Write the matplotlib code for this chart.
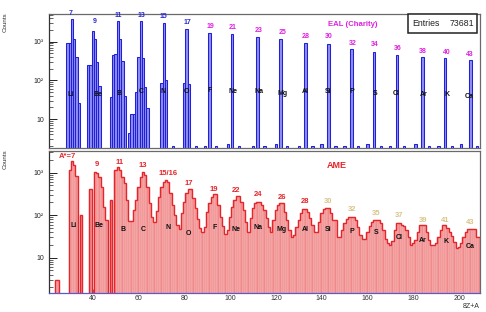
import numpy as np
import matplotlib
matplotlib.use('Agg')
import matplotlib.pyplot as plt
from matplotlib.patches import Rectangle
from matplotlib.ticker import FixedLocator, FixedFormatter, MultipleLocator, NullFormatter

plt.rcParams['font.family'] = ['Liberation Sans', 'DejaVu Sans']

# ---------------- data (x = 8Z+A bin centre, y = counts) ----------------
# EAL (Charity) - top panel
eal_Li = (29, [900, 950, 3800, 1150, 400, 26])
eal_Be = (38, [250, 250, 1900, 1150, 300, 70])
eal_B = (48, [38, 450, 470, 3500, 1150, 316, 40])
eal_C = (56, [4.3, 13.5, 13.5, 51, 400, 3500, 375, 66, 19])
eal_N = (70, [87, 3100, 100])
eal_O = (80, [84, 2100, 80])
eal_peak_x = [91, 101, 112, 122, 133, 143, 153, 163, 173, 184, 194, 205]
eal_peak_y = [1650, 1550, 1350, 1150, 910, 860, 635, 550, 455, 395, 370, 340]
eal_tail_x = [75, 85, 89, 94, 99, 104, 110, 115, 120, 125, 130, 136, 140,
              146, 150, 156, 160, 166, 170, 176, 181, 187, 191, 197, 201, 208]
eal_tail_y = [2.0, 2.0, 2.0, 2.0, 2.25, 2.0, 2.0, 2.0, 2.25, 2.0, 2.0, 2.0, 2.25,
              2.0, 2.0, 2.0, 2.25, 2.0, 2.0, 2.0, 2.25, 2.0, 2.0, 2.0, 2.25, 2.0]
eal_entries = 73681

# AME - bottom panel
ame_low = (24, [3, 3])
ame_Li = (30, [1150, 1900, 1520, 820, 0, 100])
ame_Be = (39, [408, 0, 1050, 1000, 805, 470, 158, 77, 0, 228, 0])
ame_B = (50, [1150, 1340, 1150, 805, 565, 228])
ame_C = (56, [73, 73, 133, 228, 470, 805, 1050, 880, 450, 190, 92, 70])
ame_N = (68, [123, 275, 470, 620, 670, 600, 327, 173, 100, 60, 47])
ame_O = (79, [110, 208, 327, 408, 408, 250, 145, 80, 50, 41])
ame_F = (89, [54, 120, 190, 275, 310, 310, 173, 90, 55, 37])
ame_Ne = (99, [45, 92, 158, 228, 283, 283, 200, 130, 70, 40])
ame_Na = (109, [85, 145, 190, 208, 208, 173, 133, 85, 54, 40])
ame_Mg = (119, [77, 133, 173, 190, 190, 120, 77, 45, 30])
ame_Al = (128, [35, 54, 77, 110, 140, 140, 120, 85, 59, 41])
ame_Si = (138, [41, 70, 110, 140, 150, 150, 110, 77, 77, 30])
ame_P = (148, [30, 45, 65, 80, 92, 92, 92, 77, 54, 35, 27])
ame_S = (159, [28, 40, 55, 70, 77, 77, 77, 65, 45, 28, 22, 20])
ame_Cl = (171, [25, 45, 65, 65, 60, 55, 45, 30, 20, 22])
ame_Ar = (181, [26, 41, 58, 58, 58, 41, 26, 20, 20])
ame_K = (190, [22, 30, 45, 58, 58, 50, 40, 32, 24, 17, 18])
ame_Ca = (201, [22, 30, 40, 47, 47, 47, 47, 30, 30])

elements = ['Li', 'Be', 'B', 'C', 'N', 'O', 'F', 'Ne', 'Na', 'Mg', 'Al', 'Si',
            'P', 'S', 'Cl', 'Ar', 'K', 'Ca']
eal_mass_labels = ['7', '9', '11', '13', '15', '17', '19', '21', '23', '25', '28',
                   '30', '32', '34', '36', '38', '40', '43']
ame_mass_labels = ['A*=7', '9', '11', '13', '15/16', '17', '19', '22', '24', '26',
                   '28', '30', '32', '35', '37', '39', '41', '43']

# ---------------- annotation layout (data coords) ----------------
top_mass_x = [30.5, 41, 51.2, 61.4, 70.9, 81.3, 91.6, 101.2, 112.7, 122.8, 133,
              142.9, 153.4, 163.3, 173.1, 184.4, 194.7, 204.9]
top_mass_y = [5430, 3290, 4900, 4900, 4440, 3100, 2440, 2300, 2000, 1750, 1350,
              1350, 910, 860, 675, 550, 520, 470]
top_elem_x = [30.5, 42.2, 51.5, 61.4, 70.9, 81.1, 91, 101.4, 112.7, 123, 132.8,
              142.9, 153.4, 163.2, 172.8, 184.4, 194.7, 204.5]
top_elem_y = [42, 42, 46, 50, 53, 50, 55, 53, 53, 46, 50, 50, 50, 46, 45, 42, 42, 39]
bot_mass_x = [28.8, 41.8, 51.9, 61.9, 73, 82, 92.7, 102.6, 112.4, 122.6, 132.8,
              142.9, 153.2, 163.8, 173.9, 184.1, 194, 204.9]
bot_mass_y = [2377, 1518, 1718, 1438, 968, 563, 408, 371, 310, 258, 208, 208,
              133, 111, 96, 77, 77, 66]
bot_elem_x = [31.8, 42.9, 53.1, 61.9, 73, 82, 93.1, 102.6, 112.4, 122.6, 132.8,
              142.9, 153.2, 163.8, 173.9, 184.1, 194.4, 204.9]
bot_elem_y = [56, 56, 45, 45, 50, 38, 50, 45, 52, 47, 45, 46.5, 41, 39, 30, 26, 24, 18]


def build(segments, lo=21, hi=210):
    x = np.arange(lo, hi + 1)
    y = np.zeros_like(x, dtype=float)
    for start, vals in segments:
        for i, v in enumerate(vals):
            y[start + i - lo] = v
    return x, y


eal_x, eal_y = build([eal_Li, eal_Be, eal_B, eal_C, eal_N, eal_O])
for xx, yy in zip(eal_peak_x, eal_peak_y):
    eal_y[xx - 21] = yy
for xx, yy in zip(eal_tail_x, eal_tail_y):
    eal_y[xx - 21] = yy

ame_x, ame_y = build([ame_low, ame_Li, ame_Be, ame_B, ame_C, ame_N, ame_O, ame_F,
                      ame_Ne, ame_Na, ame_Mg, ame_Al, ame_Si, ame_P, ame_S, ame_Cl,
                      ame_Ar, ame_K, ame_Ca])

# ---------------- figure ----------------
fig = plt.figure(figsize=(4.86, 3.12), dpi=100)
ax1 = fig.add_axes([0.1014, 0.5266, 0.8869, 0.4285])
ax2 = fig.add_axes([0.1014, 0.0599, 0.8869, 0.4561])

XL = (21.05, 209.3)
BASE = 0.1

# top histogram
m = eal_y > 0
ax1.bar(eal_x[m], eal_y[m] - BASE, bottom=BASE, width=1.0, color='#8f8ff0',
        edgecolor='#2020dc', linewidth=0.75, zorder=2)
ax1.set_yscale('log')
ax1.set_xlim(*XL)
ax1.set_ylim(1.81, 5210)

# bottom histogram
m2 = ame_y > 0
ax2.bar(ame_x[m2], ame_y[m2] - BASE, bottom=BASE, width=1.0, color='#f08a8c',
        edgecolor='#fbd3d3', linewidth=0.3, zorder=2)
edges = np.append(ame_x - 0.5, ame_x[-1] + 0.5)
ax2.stairs(np.where(ame_y > 0, ame_y, 0.2), edges, baseline=0.2, color='#e3262b',
           linewidth=1.0, zorder=3)
ax2.set_yscale('log')
ax2.set_xlim(*XL)
ax2.set_ylim(1.45, 3240)

minor = [k * 10 ** d for d in range(0, 4) for k in range(2, 10)]
for ax in (ax1, ax2):
    ax.yaxis.set_major_locator(FixedLocator([10, 100, 1000]))
    ax.yaxis.set_major_formatter(FixedFormatter(['10', '10\u00b2', '10\u00b3']))
    ax.yaxis.set_minor_locator(FixedLocator(minor))
    ax.yaxis.set_minor_formatter(NullFormatter())
    ax.tick_params(axis='y', which='major', direction='in', length=6, width=0.7,
                   labelsize=5, pad=4, colors='#222222')
    ax.tick_params(axis='y', which='minor', direction='in', length=3, width=0.5,
                   colors='#222222')
    ax.tick_params(axis='y', right=False)
    for s in ax.spines.values():
        s.set_color('#6a6a6a')
        s.set_linewidth(0.9)
    ax.spines['left'].set_color('#333333')

ax1.tick_params(axis='x', which='both', bottom=False, top=False, labelbottom=False)
ax2.xaxis.set_major_locator(MultipleLocator(20))
ax2.xaxis.set_minor_locator(MultipleLocator(5))
ax2.tick_params(axis='x', which='major', direction='in', length=3, width=0.6,
                labelsize=5, pad=1.5, colors='#333333')
ax2.tick_params(axis='x', which='minor', direction='in', length=2, width=0.5,
                colors='#333333')
ax2.spines['bottom'].set_color('#5a5acc')

# labels top
blue_lab = '#2a2ad0'
mag_lab = '#e020e0'
for i, t in enumerate(eal_mass_labels):
    c = blue_lab if i < 6 else mag_lab
    ax1.text(top_mass_x[i], top_mass_y[i], t, color=c, fontsize=5, fontweight='bold',
             ha='center', va='center', clip_on=False, zorder=5)
for i, t in enumerate(elements):
    ax1.text(top_elem_x[i], top_elem_y[i], t, color='#111111', fontsize=5,
             fontweight='bold', ha='center', va='center', zorder=5)
ax1.text(0.705, 0.925, 'EAL (Charity)', transform=ax1.transAxes, color=mag_lab,
         fontsize=5.6, fontweight='bold', ha='center', va='center')
ax1.add_patch(Rectangle((0.832, 0.856), 0.16, 0.144, transform=ax1.transAxes,
                        facecolor='white', edgecolor='#222222', linewidth=1.1,
                        zorder=6, clip_on=False))
ax1.text(0.841, 0.928, 'Entries', transform=ax1.transAxes, fontsize=6.3,
         ha='left', va='center', zorder=7, color='#222222')
ax1.text(0.986, 0.928, f'{eal_entries}', transform=ax1.transAxes, fontsize=6.3,
         ha='right', va='center', zorder=7, color='#222222')

# labels bottom
red_lab = '#e3262b'
tan_lab = '#d8c488'
for i, t in enumerate(ame_mass_labels):
    c = red_lab if i < 11 else tan_lab
    ax2.text(bot_mass_x[i], bot_mass_y[i], t, color=c, fontsize=5.5, fontweight='bold',
             ha='center', va='center', zorder=5)
for i, t in enumerate(elements):
    ax2.text(bot_elem_x[i], bot_elem_y[i], t, color='#111111', fontsize=5,
             fontweight='bold', ha='center', va='center', zorder=5)
ax2.text(0.667, 0.9016, 'AME', transform=ax2.transAxes, color=red_lab,
         fontsize=6.5, fontweight='bold', ha='center', va='center')

fig.text(5.5 / 486, 1 - 12 / 312, 'Counts', rotation=90, ha='center', va='top',
         fontsize=4.5, color='#333333')
fig.text(5.5 / 486, 1 - 149 / 312, 'Counts', rotation=90, ha='center', va='top',
         fontsize=4.5, color='#333333')
fig.text(480 / 486, 1 - 306 / 312, '8Z+A', ha='right', va='center', fontsize=5,
         color='#333333')

fig.savefig('out.png', dpi=100)
